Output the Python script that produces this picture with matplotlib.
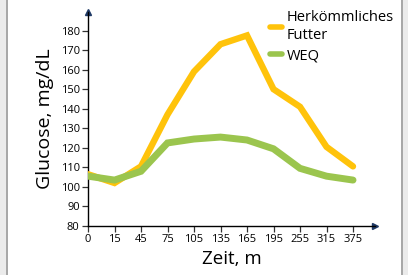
import matplotlib.pyplot as plt
from matplotlib.patches import Rectangle

times = ['0', '15', '45', '75', '105', '135', '165', '195', '255', '315', '375']
futter = [106.5, 102, 110.5, 137, 159, 173, 177.5, 150, 141, 120.5, 110.5]
weq = [105.5, 103.5, 108, 122.5, 124.5, 125.5, 124, 119.5, 109.5, 105.5, 103.5]
y_ticks = [80, 90, 100, 110, 120, 130, 140, 150, 160, 170, 180]

YELLOW = '#FFC30B'
GREEN = '#9BC54E'
NAVY = '#1F3A66'

plt.rcParams['font.family'] = ['Open Sans', 'DejaVu Sans']

W, H = 408, 275
fig = plt.figure(figsize=(W / 100, H / 100), dpi=100)
fig.patch.set_facecolor('#ebebeb')
# white panel with grey side lines (behind the axes)
fig.patches.append(Rectangle((6 / W, 0), 397 / W, 1, transform=fig.transFigure,
                             facecolor='white', edgecolor='none', zorder=-10))
for xl in (6, 401):
    fig.patches.append(Rectangle((xl / W, 0), 2 / W, 1, transform=fig.transFigure,
                                 facecolor='#a8a8a8', edgecolor='none', zorder=-10))

ax = fig.add_axes([88 / W, 49 / H, 287 / W, 214 / H])
ax.set_facecolor('none')

x = list(range(len(times)))
ax.plot(x, futter, color=YELLOW, lw=4.6, solid_joinstyle='miter', solid_capstyle='round',
        label='Herkömmliches\nFutter', zorder=3)
ax.plot(x, weq, color=GREEN, lw=5.0, solid_joinstyle='miter', solid_capstyle='round',
        label='WEQ', zorder=4)

ax.set_xlim(0, 10.83)
ax.set_ylim(80, 189.5)
ax.set_xticks(x)
ax.set_xticklabels(times)
ax.set_yticks(y_ticks)
ax.tick_params(axis='both', labelsize=8, length=4, width=0.9, color='#333333', pad=2)

for s in ('top', 'right'):
    ax.spines[s].set_visible(False)
for s in ('left', 'bottom'):
    ax.spines[s].set_linewidth(1.0)

# arrow heads at the ends of the axes
ax.plot(1, 0, '>', color=NAVY, ms=5, transform=ax.transAxes, clip_on=False)
ax.plot(0, 1, '^', color=NAVY, ms=5, transform=ax.transAxes, clip_on=False)

ax.set_ylabel('Glucose, mg/dL', fontsize=14, labelpad=5)
ax.set_xlabel('Zeit, m', fontsize=13.5, labelpad=3)

leg = ax.legend(loc='upper left', bbox_to_anchor=(0.615, 1.035), frameon=False,
                fontsize=10.5, handlelength=0.8, handletextpad=0.3, labelspacing=0.4,
                borderaxespad=0)
for line in leg.get_lines():
    line.set_linewidth(4)

fig.savefig('out.png', dpi=100, facecolor=fig.get_facecolor())
